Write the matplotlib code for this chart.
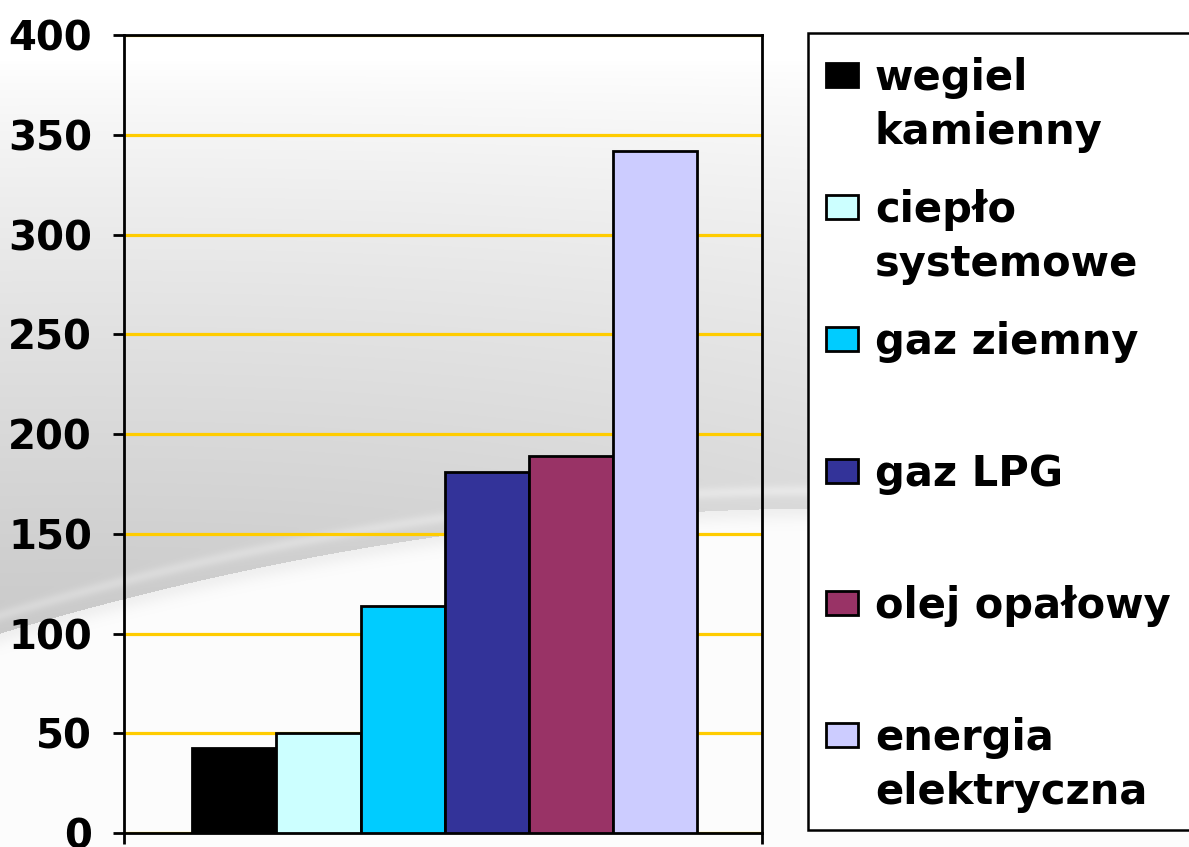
import numpy as np
import matplotlib
matplotlib.use("Agg")
import matplotlib.pyplot as plt
from matplotlib.patches import Rectangle

# dane
kategorie = ["wegiel\nkamienny", "ciepło\nsystemowe", "gaz ziemny",
             "gaz LPG", "olej opałowy", "energia\nelektryczna"]
wartosci = [42.5, 50, 114, 181, 189, 342]
kolory = ["#000000", "#CCFFFF", "#00CCFF", "#333399", "#993366", "#CCCCFF"]
y_ticks = [0, 50, 100, 150, 200, 250, 300, 350, 400]

W, H = 1189, 847
fig = plt.figure(figsize=(W / 100, H / 100), dpi=100)
plt.rcParams['font.family'] = ['DejaVu Sans']

# tło: szary gradient z jasną "falą" u dołu
bg = fig.add_axes([0, 0, 1, 1], zorder=-10)
xx, yy = np.meshgrid(np.arange(W), np.arange(H))
y_line = 633 - 0.30 * xx + 0.00018 * xx ** 2
t = np.clip((yy - 60) / (y_line - 60), 0, 1) ** 0.8
v = 1 - 0.21 * t * (1 - 0.45 * xx / W)
below = yy > y_line
v = np.where(below, 0.99 - 0.05 * np.exp(-((yy - y_line) / 12.0) ** 2), v)
v = v + 0.05 * np.exp(-((y_line - 18 - yy) / 6.0) ** 2) * (yy < y_line)
v = np.clip(v, 0, 1)
bg.imshow(np.dstack([v, v, v]), aspect='auto', extent=[0, W, H, 0])
bg.set_xlim(0, W)
bg.set_ylim(H, 0)
bg.axis('off')

# wykres
ax = fig.add_axes([124 / W, 14 / H, 638 / W, 798 / H])
ax.set_facecolor('none')
x = np.arange(len(wartosci))
ax.bar(x, wartosci, width=1.0, color=kolory, edgecolor='black', linewidth=2.0, zorder=3)

ax.set_ylim(0, 400)
ax.set_xlim(-1.31, 6.27)
ax.set_yticks(y_ticks)
ax.set_xticks([-1.31, 6.27])
ax.set_xticklabels([])
ax.yaxis.grid(True, color='#FFCC00', linewidth=2.3)
ax.set_axisbelow(True)
for s in ax.spines.values():
    s.set_linewidth(2.0)
ax.tick_params(axis='both', direction='out', length=8, width=2.0)
ax.tick_params(axis='y', pad=15)
for lab in ax.get_yticklabels():
    lab.set_fontsize(29)
    lab.set_fontweight('bold')

# legenda rysowana ręcznie
fig.add_artist(Rectangle((808 / W, (H - 830) / H), 0.5, 797 / H,
                         transform=fig.transFigure, facecolor='white',
                         edgecolor='black', linewidth=1.8, zorder=5))
for i, (lab, kol) in enumerate(zip(kategorie, kolory)):
    base = 90 + 132 * i
    fig.add_artist(Rectangle((826 / W, (H - base + 3) / H), 32 / W, 24 / H,
                             transform=fig.transFigure, facecolor=kol,
                             edgecolor='black', linewidth=2, zorder=6))
    for j, linia in enumerate(lab.split("\n")):
        fig.text(875 / W, (H - base - 54 * j) / H, linia, fontsize=30,
                 fontweight='bold', va='baseline', ha='left', zorder=7)

fig.savefig("out.png", dpi=100)
